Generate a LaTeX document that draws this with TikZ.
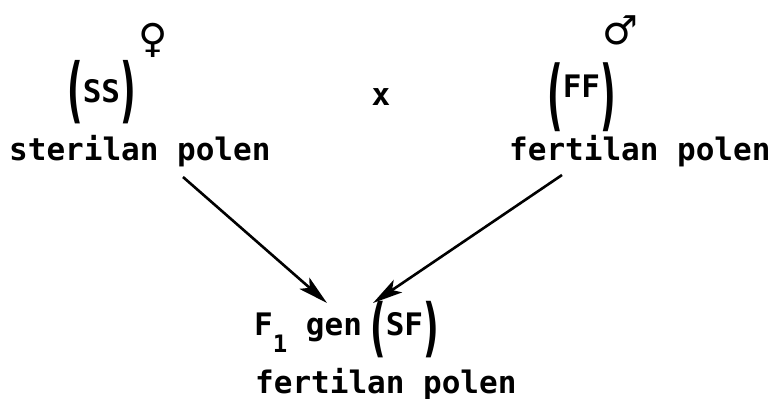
\documentclass[tikz,border=0pt]{standalone}
\usepackage{fontspec}
\setmainfont{DejaVu Sans Mono}[BoldFont={DejaVu Sans Mono Bold}]
\newfontfamily\parenfont{DejaVu Sans}[BoldFont={DejaVu Sans Bold}]
\newfontfamily\symfont{DejaVu Sans}
\usetikzlibrary{arrows.meta}
\newcommand\tallp[3]{\raisebox{#2}{\parenfont\bfseries\scalebox{1.1}[#1]{#3}}}
\tikzset{
  lbl/.style={inner sep=0pt, font=\fontsize{31}{31}\selectfont\bfseries, anchor=base west},
  sym/.style={inner sep=0pt, font=\fontsize{40}{40}\selectfont\symfont},
  cross/.style={line width=2.6pt, >={Stealth[length=30pt,width=15pt,inset=7pt]}, ->}
}
\begin{document}
\begin{tikzpicture}[x=1pt,y=-1pt]
\useasboundingbox (0,0) rectangle (780,399);
% parents
\node[lbl] (ss) at (67,102) {\tallp{2.3}{-12pt}{(}SS\tallp{2.3}{-12pt}{)}};
\node[sym] (fem) at (153,40) {♀};
\node[lbl] (steril) at (9,160) {sterilan polen};
\node[lbl, anchor=base] (x) at (381,105) {x};
\node[lbl] (ff) at (547,97) {\tallp{2.5}{-24pt}{(}FF\tallp{2.5}{-24pt}{)}};
\node[sym] (male) at (620,30) {♂};
\node[lbl] (fertR) at (509,160) {fertilan polen};
% offspring
\node[lbl] (f1) at (254,335) {F\raisebox{-17pt}{\fontsize{24}{24}\selectfont 1} gen};
\node[lbl] (sf) at (370,335) {\tallp{2.05}{-14pt}{(}SF\tallp{2.05}{-14pt}{)}};
\node[lbl] (fertB) at (255,393) {fertilan polen};
% arrows
\coordinate (ls) at (183,177);
\coordinate (le) at (327,303);
\coordinate (rs) at (562,175);
\coordinate (re) at (373,303);
\draw[cross] (ls) -- (le);
\draw[cross] (rs) -- (re);
\end{tikzpicture}
\end{document}
